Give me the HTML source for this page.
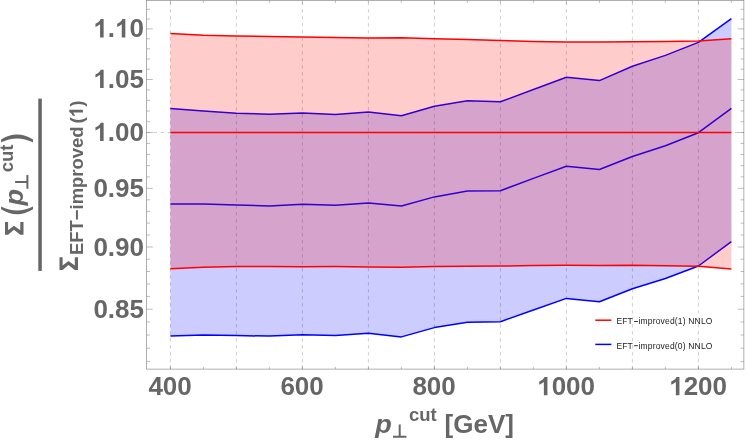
<!DOCTYPE html>
<html><head><meta charset="utf-8"><title>plot</title>
<style>
html,body{margin:0;padding:0;background:#fff;}
svg{display:block;will-change:transform;}
text{font-family:"Liberation Sans",sans-serif;}
</style></head><body>
<svg width="747" height="440" viewBox="0 0 747 440">
<rect x="0" y="0" width="747" height="440" fill="#ffffff"/>
<g stroke="#cecece" stroke-width="1" stroke-dasharray="3.4 3.6" fill="none"><line x1="170.4" y1="369.5" x2="170.4" y2="0.5"/><line x1="236.4" y1="369.5" x2="236.4" y2="0.5"/><line x1="302.4" y1="369.5" x2="302.4" y2="0.5"/><line x1="368.4" y1="369.5" x2="368.4" y2="0.5"/><line x1="434.4" y1="369.5" x2="434.4" y2="0.5"/><line x1="500.4" y1="369.5" x2="500.4" y2="0.5"/><line x1="566.4" y1="369.5" x2="566.4" y2="0.5"/><line x1="632.4" y1="369.5" x2="632.4" y2="0.5"/><line x1="698.4" y1="369.5" x2="698.4" y2="0.5"/><line x1="146.6" y1="132.5" x2="743.9" y2="132.5"/></g>
<polygon points="170.4,108.6 203.4,111.1 236.4,113.2 269.4,114.3 302.4,112.9 335.4,114.5 368.4,111.9 401.4,115.7 434.4,106.3 467.4,100.7 500.4,101.8 533.4,89.5 566.4,77.3 599.4,80.6 632.4,66.2 665.4,55.4 698.4,42.4 731.4,18.6 731.4,241.6 698.4,266.0 665.4,278.5 632.4,288.7 599.4,301.8 566.4,298.4 533.4,310.0 500.4,321.7 467.4,322.2 434.4,327.6 401.4,336.9 368.4,333.3 335.4,335.6 302.4,334.8 269.4,336.1 236.4,335.6 203.4,335.1 170.4,336.1" fill="#0000ff" fill-opacity="0.2" stroke="none"/>
<g fill="none" stroke="#0000ff" stroke-width="1.5" stroke-linejoin="round">
<polyline points="170.4,108.6 203.4,111.1 236.4,113.2 269.4,114.3 302.4,112.9 335.4,114.5 368.4,111.9 401.4,115.7 434.4,106.3 467.4,100.7 500.4,101.8 533.4,89.5 566.4,77.3 599.4,80.6 632.4,66.2 665.4,55.4 698.4,42.4 731.4,18.6"/>
<polyline points="170.4,204.0 203.4,204.0 236.4,205.1 269.4,205.9 302.4,204.3 335.4,205.3 368.4,202.9 401.4,206.0 434.4,196.9 467.4,191.0 500.4,190.7 533.4,178.4 566.4,166.2 599.4,169.5 632.4,156.5 665.4,145.7 698.4,132.7 731.4,108.3"/>
<polyline points="170.4,336.1 203.4,335.1 236.4,335.6 269.4,336.1 302.4,334.8 335.4,335.6 368.4,333.3 401.4,336.9 434.4,327.6 467.4,322.2 500.4,321.7 533.4,310.0 566.4,298.4 599.4,301.8 632.4,288.7 665.4,278.5 698.4,266.0 731.4,241.6"/>
</g>
<polygon points="170.4,33.4 203.4,35.3 236.4,36.1 269.4,36.5 302.4,36.9 335.4,37.4 368.4,37.9 401.4,37.7 434.4,38.7 467.4,39.5 500.4,40.6 533.4,41.4 566.4,42.1 599.4,42.1 632.4,41.8 665.4,41.6 698.4,41.0 731.4,38.8 731.4,269.1 698.4,266.3 665.4,265.7 632.4,265.2 599.4,265.5 566.4,265.2 533.4,265.6 500.4,266.0 467.4,266.2 434.4,266.5 401.4,267.3 368.4,266.9 335.4,266.5 302.4,266.8 269.4,266.5 236.4,266.5 203.4,267.3 170.4,268.7" fill="#ff0000" fill-opacity="0.2" stroke="none"/>
<g fill="none" stroke="#ff0000" stroke-width="1.5" stroke-linejoin="round">
<polyline points="170.4,33.4 203.4,35.3 236.4,36.1 269.4,36.5 302.4,36.9 335.4,37.4 368.4,37.9 401.4,37.7 434.4,38.7 467.4,39.5 500.4,40.6 533.4,41.4 566.4,42.1 599.4,42.1 632.4,41.8 665.4,41.6 698.4,41.0 731.4,38.8"/>
<polyline points="170.4,132.5 203.4,132.5 236.4,132.5 269.4,132.5 302.4,132.5 335.4,132.5 368.4,132.5 401.4,132.5 434.4,132.5 467.4,132.5 500.4,132.5 533.4,132.5 566.4,132.5 599.4,132.5 632.4,132.5 665.4,132.5 698.4,132.5 731.4,132.5"/>
<polyline points="170.4,268.7 203.4,267.3 236.4,266.5 269.4,266.5 302.4,266.8 335.4,266.5 368.4,266.9 401.4,267.3 434.4,266.5 467.4,266.2 500.4,266.0 533.4,265.6 566.4,265.2 599.4,265.5 632.4,265.2 665.4,265.7 698.4,266.3 731.4,269.1"/>
</g>
<g stroke="#7a7a7a" stroke-width="0.5" fill="none"><line x1="170.4" y1="369.1" x2="170.4" y2="365.5"/><line x1="170.4" y1="0.5" x2="170.4" y2="4.1"/><line x1="203.4" y1="369.1" x2="203.4" y2="366.8"/><line x1="203.4" y1="0.5" x2="203.4" y2="2.8"/><line x1="236.4" y1="369.1" x2="236.4" y2="366.8"/><line x1="236.4" y1="0.5" x2="236.4" y2="2.8"/><line x1="269.4" y1="369.1" x2="269.4" y2="366.8"/><line x1="269.4" y1="0.5" x2="269.4" y2="2.8"/><line x1="302.4" y1="369.1" x2="302.4" y2="365.5"/><line x1="302.4" y1="0.5" x2="302.4" y2="4.1"/><line x1="335.4" y1="369.1" x2="335.4" y2="366.8"/><line x1="335.4" y1="0.5" x2="335.4" y2="2.8"/><line x1="368.4" y1="369.1" x2="368.4" y2="366.8"/><line x1="368.4" y1="0.5" x2="368.4" y2="2.8"/><line x1="401.4" y1="369.1" x2="401.4" y2="366.8"/><line x1="401.4" y1="0.5" x2="401.4" y2="2.8"/><line x1="434.4" y1="369.1" x2="434.4" y2="365.5"/><line x1="434.4" y1="0.5" x2="434.4" y2="4.1"/><line x1="467.4" y1="369.1" x2="467.4" y2="366.8"/><line x1="467.4" y1="0.5" x2="467.4" y2="2.8"/><line x1="500.4" y1="369.1" x2="500.4" y2="366.8"/><line x1="500.4" y1="0.5" x2="500.4" y2="2.8"/><line x1="533.4" y1="369.1" x2="533.4" y2="366.8"/><line x1="533.4" y1="0.5" x2="533.4" y2="2.8"/><line x1="566.4" y1="369.1" x2="566.4" y2="365.5"/><line x1="566.4" y1="0.5" x2="566.4" y2="4.1"/><line x1="599.4" y1="369.1" x2="599.4" y2="366.8"/><line x1="599.4" y1="0.5" x2="599.4" y2="2.8"/><line x1="632.4" y1="369.1" x2="632.4" y2="366.8"/><line x1="632.4" y1="0.5" x2="632.4" y2="2.8"/><line x1="665.4" y1="369.1" x2="665.4" y2="366.8"/><line x1="665.4" y1="0.5" x2="665.4" y2="2.8"/><line x1="698.4" y1="369.1" x2="698.4" y2="365.5"/><line x1="698.4" y1="0.5" x2="698.4" y2="4.1"/><line x1="731.4" y1="369.1" x2="731.4" y2="366.8"/><line x1="731.4" y1="0.5" x2="731.4" y2="2.8"/><line x1="146.6" y1="361.6" x2="150.0" y2="361.6"/><line x1="743.9" y1="361.6" x2="740.5" y2="361.6"/><line x1="146.6" y1="348.2" x2="150.0" y2="348.2"/><line x1="743.9" y1="348.2" x2="740.5" y2="348.2"/><line x1="146.6" y1="335.0" x2="150.0" y2="335.0"/><line x1="743.9" y1="335.0" x2="740.5" y2="335.0"/><line x1="146.6" y1="322.0" x2="150.0" y2="322.0"/><line x1="743.9" y1="322.0" x2="740.5" y2="322.0"/><line x1="146.6" y1="309.2" x2="152.8" y2="309.2"/><line x1="743.9" y1="309.2" x2="737.7" y2="309.2"/><line x1="146.6" y1="296.4" x2="150.0" y2="296.4"/><line x1="743.9" y1="296.4" x2="740.5" y2="296.4"/><line x1="146.6" y1="283.9" x2="150.0" y2="283.9"/><line x1="743.9" y1="283.9" x2="740.5" y2="283.9"/><line x1="146.6" y1="271.5" x2="150.0" y2="271.5"/><line x1="743.9" y1="271.5" x2="740.5" y2="271.5"/><line x1="146.6" y1="259.2" x2="150.0" y2="259.2"/><line x1="743.9" y1="259.2" x2="740.5" y2="259.2"/><line x1="146.6" y1="247.0" x2="152.8" y2="247.0"/><line x1="743.9" y1="247.0" x2="737.7" y2="247.0"/><line x1="146.6" y1="235.0" x2="150.0" y2="235.0"/><line x1="743.9" y1="235.0" x2="740.5" y2="235.0"/><line x1="146.6" y1="223.1" x2="150.0" y2="223.1"/><line x1="743.9" y1="223.1" x2="740.5" y2="223.1"/><line x1="146.6" y1="211.4" x2="150.0" y2="211.4"/><line x1="743.9" y1="211.4" x2="740.5" y2="211.4"/><line x1="146.6" y1="199.8" x2="150.0" y2="199.8"/><line x1="743.9" y1="199.8" x2="740.5" y2="199.8"/><line x1="146.6" y1="188.3" x2="152.8" y2="188.3"/><line x1="743.9" y1="188.3" x2="737.7" y2="188.3"/><line x1="146.6" y1="176.9" x2="150.0" y2="176.9"/><line x1="743.9" y1="176.9" x2="740.5" y2="176.9"/><line x1="146.6" y1="165.6" x2="150.0" y2="165.6"/><line x1="743.9" y1="165.6" x2="740.5" y2="165.6"/><line x1="146.6" y1="154.5" x2="150.0" y2="154.5"/><line x1="743.9" y1="154.5" x2="740.5" y2="154.5"/><line x1="146.6" y1="143.4" x2="150.0" y2="143.4"/><line x1="743.9" y1="143.4" x2="740.5" y2="143.4"/><line x1="146.6" y1="132.5" x2="152.8" y2="132.5"/><line x1="743.9" y1="132.5" x2="737.7" y2="132.5"/><line x1="146.6" y1="121.7" x2="150.0" y2="121.7"/><line x1="743.9" y1="121.7" x2="740.5" y2="121.7"/><line x1="146.6" y1="111.0" x2="150.0" y2="111.0"/><line x1="743.9" y1="111.0" x2="740.5" y2="111.0"/><line x1="146.6" y1="100.4" x2="150.0" y2="100.4"/><line x1="743.9" y1="100.4" x2="740.5" y2="100.4"/><line x1="146.6" y1="89.9" x2="150.0" y2="89.9"/><line x1="743.9" y1="89.9" x2="740.5" y2="89.9"/><line x1="146.6" y1="79.5" x2="152.8" y2="79.5"/><line x1="743.9" y1="79.5" x2="737.7" y2="79.5"/><line x1="146.6" y1="69.2" x2="150.0" y2="69.2"/><line x1="743.9" y1="69.2" x2="740.5" y2="69.2"/><line x1="146.6" y1="59.0" x2="150.0" y2="59.0"/><line x1="743.9" y1="59.0" x2="740.5" y2="59.0"/><line x1="146.6" y1="48.8" x2="150.0" y2="48.8"/><line x1="743.9" y1="48.8" x2="740.5" y2="48.8"/><line x1="146.6" y1="38.8" x2="150.0" y2="38.8"/><line x1="743.9" y1="38.8" x2="740.5" y2="38.8"/><line x1="146.6" y1="28.9" x2="152.8" y2="28.9"/><line x1="743.9" y1="28.9" x2="737.7" y2="28.9"/><line x1="146.6" y1="19.1" x2="150.0" y2="19.1"/><line x1="743.9" y1="19.1" x2="740.5" y2="19.1"/><line x1="146.6" y1="9.3" x2="150.0" y2="9.3"/><line x1="743.9" y1="9.3" x2="740.5" y2="9.3"/></g>
<rect x="146.6" y="0.5" width="597.3" height="368.6" fill="none" stroke="#7a7a7a" stroke-width="0.6"/>
<g fill="#666666" font-weight="bold" font-size="26">
<text x="148.42" y="395.2">400</text>
<text x="280.42" y="395.2">600</text>
<text x="412.42" y="395.2">800</text>
<path transform="translate(537.19,395.2) scale(0.01270,-0.01242)" d="M806 0H525V1059Q371 915 162 846V1101Q272 1137 401 1237.5Q530 1338 578 1472H806Z"/><text x="551.64" y="395.2">000</text>
<path transform="translate(669.19,395.2) scale(0.01270,-0.01242)" d="M806 0H525V1059Q371 915 162 846V1101Q272 1137 401 1237.5Q530 1338 578 1472H806Z"/><text x="683.64" y="395.2">200</text>
<text x="93.40" y="317.7">0.85</text>
<text x="93.40" y="255.5">0.90</text>
<text x="93.40" y="196.8">0.95</text>
<path transform="translate(93.40,141.0) scale(0.01270,-0.01242)" d="M806 0H525V1059Q371 915 162 846V1101Q272 1137 401 1237.5Q530 1338 578 1472H806Z"/><text x="107.86" y="141.0">.00</text>
<path transform="translate(93.40,88.0) scale(0.01270,-0.01242)" d="M806 0H525V1059Q371 915 162 846V1101Q272 1137 401 1237.5Q530 1338 578 1472H806Z"/><text x="107.86" y="88.0">.05</text>
<path transform="translate(93.40,37.4) scale(0.01270,-0.01242)" d="M806 0H525V1059Q371 915 162 846V1101Q272 1137 401 1237.5Q530 1338 578 1472H806Z"/><text x="107.86" y="37.4">.</text><path transform="translate(115.09,37.4) scale(0.01270,-0.01242)" d="M806 0H525V1059Q371 915 162 846V1101Q272 1137 401 1237.5Q530 1338 578 1472H806Z"/><text x="129.54" y="37.4">0</text>
</g>
<g fill="#666666" font-weight="bold">
<text transform="translate(375.2,432.8) scale(1.04,1)" font-size="26" font-style="italic">p</text>
<path d="M393 436.7 H406.4 M399.7 436.7 V424.6" stroke="#666666" stroke-width="2" fill="none"/>
<text x="409" y="420.9" font-size="18.5">cut</text>
<text x="444.6" y="432.8" font-size="26">[GeV]</text>
</g>
<rect x="38.3" y="98.6" width="3.5" height="172.3" fill="#666666"/>
<g fill="#666666" font-weight="bold" transform="translate(23.6,236) rotate(-90)">
<path d="M1.2 -18.6 H14 V-15.5 H5.7 L10.3 -9.7 L5.7 -3.3 H14 V-0.1 H1.2 V-3.3 L6.25 -9.7 L1.2 -15.5 Z"/>
<path d="M26.8 -22.5 Q16.8 -6.6 26.8 9.4 L29.5 9.4 Q21.7 -6.6 29.5 -22.5 Z"/>
<text transform="translate(30.6,-0.5) scale(1.04,1)" font-size="26" font-style="italic">p</text>
<path d="M47.3 3.8 H60.9 M54.1 3.8 V-8.5" stroke="#666666" stroke-width="2" fill="none"/>
<text x="63.7" y="-10.9" font-size="18.5">cut</text>
<path d="M96.4 -22.5 Q106.4 -6.6 96.4 9.4 L93.7 9.4 Q101.5 -6.6 93.7 -22.5 Z"/>
</g>
<g fill="#666666" font-weight="bold" transform="translate(78.1,271.2) rotate(-90)">
<path d="M1.2 -18.6 H14 V-15.5 H5.7 L10.3 -9.7 L5.7 -3.3 H14 V-0.1 H1.2 V-3.3 L6.25 -9.7 L1.2 -15.5 Z"/>
<text x="16.2" y="4.8" font-size="18.5" textLength="128.6" lengthAdjust="spacingAndGlyphs">EFT−improved</text>
<text x="147.6" y="4.8" font-size="19">(</text><path transform="translate(153.9,4.8) scale(0.00928,-0.00928)" d="M806 0H525V1059Q371 915 162 846V1101Q272 1137 401 1237.5Q530 1338 578 1472H806Z"/><text x="164.4" y="4.8" font-size="19">)</text>
</g>
<line x1="595.3" y1="320.2" x2="611.4" y2="320.2" stroke="#ff0000" stroke-width="1.5"/>
<line x1="595.3" y1="344.4" x2="611.4" y2="344.4" stroke="#0000ff" stroke-width="1.5"/>
<g fill="#1a1a1a" font-size="8.5">
<text x="616.6" y="324.3">EFT</text><path d="M634.1 321.5 H637.9" stroke="#1a1a1a" stroke-width="0.9"/><text x="638.5" y="324.3" textLength="73.9" lengthAdjust="spacing">improved(1) NNLO</text>
<text x="616.6" y="348.5">EFT</text><path d="M634.1 345.7 H637.9" stroke="#1a1a1a" stroke-width="0.9"/><text x="638.5" y="348.5" textLength="73.9" lengthAdjust="spacing">improved(0) NNLO</text>
</g>
</svg></body></html>
